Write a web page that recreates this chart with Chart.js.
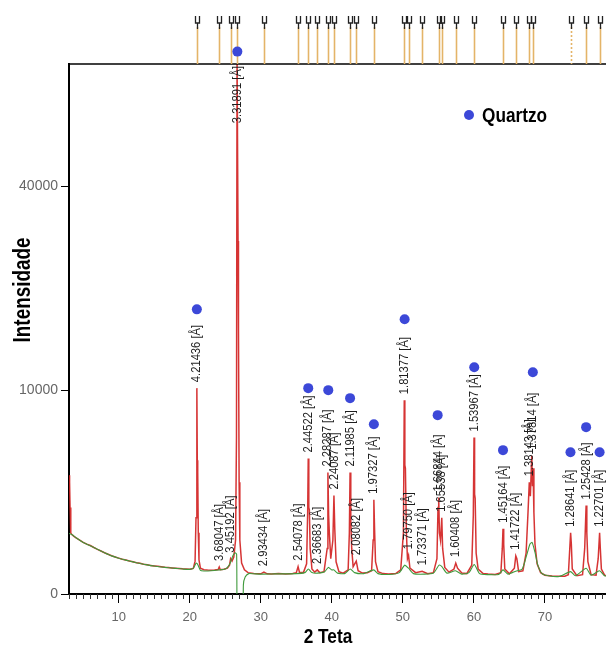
<!DOCTYPE html>
<html>
<head>
<meta charset="utf-8">
<script src="https://cdn.jsdelivr.net/npm/chart.js@4.4.0/dist/chart.umd.min.js"></script>
<style>
  html, body { margin: 0; padding: 0; background: #fff; overflow: hidden; }
</style>
</head>
<body>
<canvas id="drx" width="606" height="647"></canvas>
<script>
// difratograma (2 Teta x Intensidade)
const redTheta = [3.0,3.08,3.15,3.25,3.4,3.7,4.0,4.5,5.0,5.5,6.0,6.5,7.0,7.5,8.0,8.5,9.0,9.5,10.0,10.5,11.0,11.5,12.0,12.5,13.0,13.5,14.0,14.5,15.0,15.5,16.0,16.5,17.0,17.5,18.0,18.5,19.0,19.5,20.0,20.5,20.75,20.88,21.0,21.06,21.12,21.2,21.3,21.5,22.0,22.5,23.0,23.5,24.0,24.15,24.3,24.8,25.3,25.6,25.75,25.95,26.2,26.45,26.58,26.66,26.74,26.8,26.86,26.95,27.05,27.3,27.7,28.2,29.0,30.0,30.44,30.9,31.5,32.5,33.5,34.5,35.0,35.25,35.45,36.0,36.45,36.6,36.68,36.76,36.84,36.95,37.2,37.6,37.95,38.3,38.9,39.35,39.45,39.55,39.65,39.85,40.15,40.3,40.42,40.6,41.0,41.6,42.3,42.47,42.57,42.67,42.8,43.0,43.44,43.7,44.3,45.0,45.6,45.82,45.92,46.02,46.15,46.5,47.2,48.0,49.0,49.7,50.08,50.2,50.28,50.36,50.5,50.65,50.8,51.0,51.8,52.72,53.5,54.3,54.8,54.95,55.05,55.15,55.3,55.48,55.6,55.9,56.5,57.2,57.45,57.7,58.3,59.0,59.7,59.92,60.02,60.1,60.18,60.32,60.6,61.3,62.0,63.0,63.8,64.0,64.1,64.2,64.35,65.0,65.7,65.9,66.05,66.3,66.9,67.35,67.62,67.8,67.95,68.15,68.25,68.33,68.45,68.6,68.9,69.4,70.0,71.0,72.0,72.8,73.3,73.5,73.62,73.72,73.85,74.5,75.3,75.6,75.8,75.9,76.05,76.5,77.2,77.5,77.7,77.8,77.95,78.4,79.0];
const redInt = [3400,3000,1800,900,850,800,760,700,640,600,565,520,480,445,410,380,352,330,310,292,278,262,250,236,226,214,205,197,190,184,178,172,168,164,160,156,152,150,148,158,260,1400,10200,4300,3600,900,280,160,142,138,136,138,145,175,142,148,160,200,300,260,330,700,6000,70000,70000,30000,17000,3000,700,230,140,110,102,98,115,98,96,100,96,102,110,180,112,110,220,1600,4420,1800,1700,500,150,115,140,110,120,500,3550,1500,900,300,700,2330,1000,250,120,105,140,900,3550,1300,500,180,260,130,105,108,130,700,2140,1000,250,120,100,96,100,140,900,9040,4000,3800,900,300,360,160,110,125,100,110,300,1800,2240,900,700,1400,500,170,115,150,230,160,105,100,200,1500,5900,2400,2200,400,150,100,96,92,110,500,1025,600,150,98,160,350,300,120,130,400,1600,3000,2300,4600,2800,3800,1600,600,220,110,85,78,75,76,90,500,900,600,150,80,90,500,1880,900,250,90,85,300,900,500,150,85,80];

const greenTheta = [3.0,3.5,4.0,5.0,6.0,7.0,8.0,9.0,10.0,11.0,12.0,13.0,14.0,15.0,16.0,17.0,18.0,19.0,20.0,20.5,20.9,21.1,21.5,22.0,23.0,24.0,25.0,25.6,26.1,26.4,26.6,26.75,27.45,27.55,27.8,28.3,29.0,30.0,32.0,35.0,36.2,36.7,37.2,38.0,39.0,39.5,40.0,40.3,40.8,41.8,42.6,43.2,44.5,45.9,46.5,48.0,49.5,50.25,50.8,51.5,53.0,54.3,55.1,55.5,56.2,57.4,58.3,59.3,60.05,60.8,62.0,63.5,64.1,64.8,65.9,66.8,67.4,67.9,68.2,68.6,69.0,69.6,70.5,72.0,73.6,74.3,75.8,76.5,77.7,78.4,79.0];
const greenInt = [880,840,760,640,560,480,410,350,308,276,248,224,204,188,176,166,158,150,146,160,230,215,135,128,130,138,150,210,360,410,380,-600,-600,20,70,100,98,95,97,100,110,150,110,105,120,170,140,140,105,100,150,110,100,140,100,92,110,200,160,100,95,105,200,180,105,130,95,110,210,100,90,92,140,95,125,150,350,600,640,420,200,100,80,74,120,80,160,85,130,80,78];

// picos identificados (posição, altura, d)
const peakTheta = [21.0,24.15,25.75,26.7,30.44,35.25,36.68,37.95,39.45,40.3,42.57,43.44,45.92,50.2,50.8,52.72,55.05,55.48,57.45,60.02,64.1,65.9,67.8,68.3,73.62,75.8,77.7];
const peakInt = [10200,175,300,70000,115,180,4420,140,3550,2330,3550,260,2140,9040,360,125,2240,1400,230,5900,1025,350,3000,4600,900,1880,900];
const peakLabels = ['4.21436 [Å]','3.68047 [Å]','3.45192 [Å]','3.31891 [Å]','2.93434 [Å]','2.54078 [Å]','2.44522 [Å]','2.36683 [Å]','2.28287 [Å]','2.24087 [Å]','2.11985 [Å]','2.08082 [Å]','1.97327 [Å]','1.81377 [Å]','1.79750 [Å]','1.73371 [Å]','1.66844 [Å]','1.65538 [Å]','1.60408 [Å]','1.53967 [Å]','1.45164 [Å]','1.41722 [Å]','1.38143 [Å]','1.37814 [Å]','1.28641 [Å]','1.25428 [Å]','1.22701 [Å]'];
const dashedSticks = ['1.28641 [Å]'];

// marcadores de quartzo
const quartzTheta = [21.0,26.7,36.68,39.5,42.57,45.92,50.25,54.9,60.05,64.1,68.3,73.6,75.8,77.7];
const quartzInt = [19500,70800,10200,10000,9230,6940,18170,7700,12380,4980,11840,4840,6700,4840];

const xTicks = [10,20,30,40,50,60,70];
const yTicks = [0,10000,40000];

// escala raiz quadrada
const sq = v => Math.sign(v) * Math.sqrt(Math.abs(v));

const sans = '"Liberation Sans", Arial, sans-serif';
const QUARTZ = '#3c48d8';

// texto comprimido na horizontal (imita Arial Narrow)
function narrowText(ctx, text, x, y, rot, k) {
  ctx.save();
  ctx.translate(x, y);
  ctx.rotate(rot);
  ctx.scale(k, 1);
  ctx.fillText(text, 0, 0);
  ctx.restore();
}

const decor = {
  id: 'decor',
  afterDraw(chart) {
    const { ctx, chartArea: area, scales: { x: xs, y: ys } } = chart;
    ctx.save();

    // moldura superior
    ctx.strokeStyle = '#000';
    ctx.lineWidth = 1.5;
    ctx.beginPath();
    ctx.moveTo(area.left, area.top);
    ctx.lineTo(area.right, area.top);
    ctx.stroke();

    // ticks menores no eixo x
    ctx.lineWidth = 1;
    ctx.strokeStyle = '#333';
    for (let t = Math.ceil(xs.min); t <= xs.max; t++) {
      if (t % 10 === 0) continue;
      const px = Math.round(xs.getPixelForValue(t)) + 0.5;
      ctx.beginPath();
      ctx.moveTo(px, area.bottom);
      ctx.lineTo(px, area.bottom + 5);
      ctx.stroke();
    }

    // padrão de referência (barras no topo)
    peakTheta.forEach((t, i) => {
      const px = Math.round(xs.getPixelForValue(t)) + 0.5;
      if (px > chart.width) return;
      ctx.strokeStyle = '#e4b468';
      ctx.lineWidth = 1.6;
      ctx.setLineDash(dashedSticks.includes(peakLabels[i]) ? [2, 2] : []);
      ctx.beginPath();
      ctx.moveTo(px, 27);
      ctx.lineTo(px, area.top);
      ctx.stroke();
      ctx.setLineDash([]);
      ctx.strokeStyle = '#222';
      ctx.lineWidth = 1.3;
      ctx.beginPath();
      ctx.moveTo(px - 2, 16); ctx.lineTo(px - 2, 23);
      ctx.lineTo(px + 2, 23); ctx.lineTo(px + 2, 16);
      ctx.moveTo(px, 23); ctx.lineTo(px, 29);
      ctx.stroke();
    });

    // marcador de quartzo acima da área do gráfico
    chart.getDatasetMeta(0).data.forEach(pt => {
      if (pt.y >= area.top) return;
      ctx.fillStyle = QUARTZ;
      ctx.beginPath();
      ctx.arc(pt.x, pt.y, 5, 0, Math.PI * 2);
      ctx.fill();
    });

    // rótulos dos picos
    ctx.font = '13px ' + sans;
    ctx.fillStyle = '#1e1e1e';
    ctx.textAlign = 'left';
    ctx.textBaseline = 'middle';
    peakTheta.forEach((t, i) => {
      const px = xs.getPixelForValue(t);
      const w = ctx.measureText(peakLabels[i]).width * 0.86;
      let base = ys.getPixelForValue(sq(peakInt[i])) - 6;
      if (base - w < area.top + 2) base = area.top + 2 + w;
      narrowText(ctx, peakLabels[i], px, base, -Math.PI / 2, 0.86);
    });

    // legenda
    ctx.fillStyle = QUARTZ;
    ctx.beginPath();
    ctx.arc(469, 115, 5, 0, Math.PI * 2);
    ctx.fill();
    ctx.fillStyle = '#000';
    ctx.font = 'bold 21px ' + sans;
    narrowText(ctx, 'Quartzo', 482, 116, 0, 0.82);

    // títulos dos eixos
    ctx.textAlign = 'center';
    narrowText(ctx, '2 Teta', 328, 637, 0, 0.82);
    ctx.font = 'bold 23px ' + sans;
    narrowText(ctx, 'Intensidade', 24, 290, -Math.PI / 2, 0.82);

    ctx.restore();
  }
};

new Chart(document.getElementById('drx'), {
  type: 'line',
  data: {
    datasets: [
      {
        label: 'Quartzo',
        type: 'scatter',
        data: quartzTheta.map((x, i) => ({ x, y: sq(quartzInt[i]) })),
        pointRadius: 5,
        pointHoverRadius: 5,
        backgroundColor: QUARTZ,
        borderWidth: 0,
        clip: false,
        order: 0
      },
      {
        label: 'Ajuste',
        data: greenTheta.map((x, i) => ({ x, y: sq(greenInt[i]) })),
        borderColor: '#3f9a3c',
        borderWidth: 1.1,
        pointRadius: 0,
        tension: 0.2,
        order: 1
      },
      {
        label: 'Medido',
        data: redTheta.map((x, i) => ({ x, y: sq(redInt[i]) })),
        borderColor: 'rgba(210,30,30,0.9)',
        borderWidth: 1.5,
        pointRadius: 0,
        tension: 0,
        order: 2
      }
    ]
  },
  options: {
    responsive: false,
    devicePixelRatio: 1,
    animation: false,
    layout: { autoPadding: false, padding: { top: 64, right: 0, bottom: 0, left: 0 } },
    plugins: { legend: { display: false }, tooltip: { enabled: false } },
    scales: {
      x: {
        type: 'linear',
        min: 3,
        max: 78.6,
        afterBuildTicks: s => { s.ticks = xTicks.map(v => ({ value: v })); },
        afterFit: s => { s.height = 53; },
        grid: { drawOnChartArea: false, drawTicks: true, tickLength: 9, color: '#000', lineWidth: 1 },
        border: { color: '#000', width: 2 },
        ticks: { color: '#666', font: { size: 13, family: sans }, padding: 7, maxRotation: 0 }
      },
      y: {
        type: 'linear',
        min: 0,
        max: 260,
        afterBuildTicks: s => { s.ticks = yTicks.map(v => ({ value: sq(v) })); },
        afterFit: s => { s.width = 69; },
        grid: { drawOnChartArea: false, drawTicks: true, tickLength: 8, color: '#000', lineWidth: 1 },
        border: { color: '#000', width: 2 },
        ticks: {
          color: '#666',
          font: { size: 14, family: sans },
          padding: 3,
          callback: v => String(Math.round(v * v))
        }
      }
    }
  },
  plugins: [decor]
});
</script>
</body>
</html>
